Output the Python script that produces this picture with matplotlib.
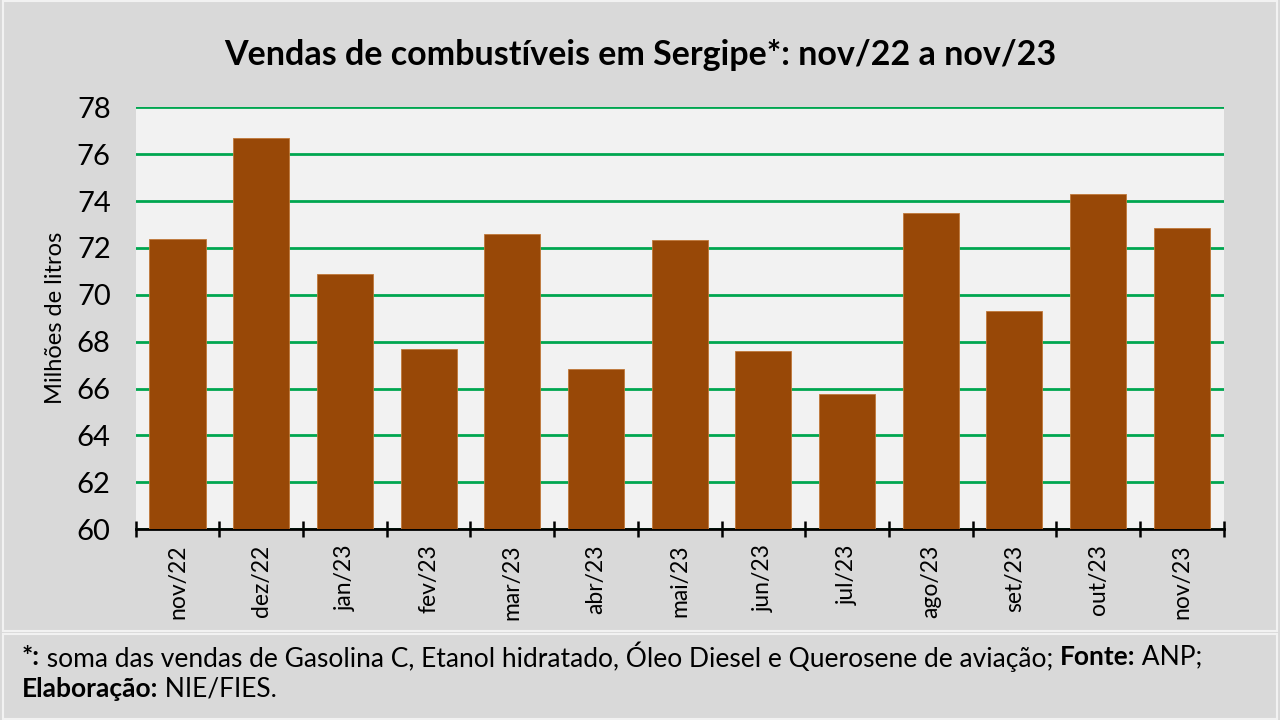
import matplotlib.pyplot as plt
from matplotlib.patches import Rectangle

months = ["nov/22", "dez/22", "jan/23", "fev/23", "mar/23", "abr/23", "mai/23",
          "jun/23", "jul/23", "ago/23", "set/23", "out/23", "nov/23"]
sales = [72.4, 76.7, 70.9, 67.7, 72.6, 66.85, 72.35, 67.6, 65.75, 73.5, 69.3, 74.3, 72.85]
yticks = [60, 62, 64, 66, 68, 70, 72, 74, 76, 78]

plt.rcParams["font.family"] = ["Lato", "DejaVu Sans"]

fig = plt.figure(figsize=(12.8, 7.2), dpi=100)
fig.patch.set_facecolor("#D9D9D9")

# light borders of chart box and footnote box
fig.patches.append(Rectangle((0.002, 0.123), 0.996, 0.875, transform=fig.transFigure,
                             facecolor="none", edgecolor="#F2F2F2", linewidth=1.5))
fig.patches.append(Rectangle((0.002, 0.002), 0.996, 0.118, transform=fig.transFigure,
                             facecolor="none", edgecolor="#F2F2F2", linewidth=1.5))

ax = fig.add_axes([0.106, 0.265, 0.850, 0.586])
ax.set_facecolor("#F2F2F2")

x = list(range(len(months)))
ax.bar(x, sales, width=0.67, color="#984807", edgecolor="#C07838", linewidth=0.6, zorder=3)

ax.set_ylim(60, 78)
ax.set_xlim(-0.5, len(months) - 0.5)
ax.set_yticks(yticks)
ax.set_yticklabels([str(v) for v in yticks], fontsize=21)
ax.tick_params(axis="y", length=0, pad=18)
ax.yaxis.grid(True, color="#00A650", linewidth=2, zorder=1)
ax.set_axisbelow(True)

ax.set_xticks(x)
ax.set_xticklabels(months, rotation=90, fontsize=16.5)
ax.tick_params(axis="x", which="major", length=0, pad=11)
ax.set_xticks([i - 0.5 for i in range(len(months) + 1)], minor=True)
ax.tick_params(axis="x", which="minor", length=12, width=1.8, direction="inout", color="black")

for side in ["top", "right", "left"]:
    ax.spines[side].set_visible(False)
ax.spines["bottom"].set_linewidth(2)

ax.set_ylabel("Milhões de litros", fontsize=17, labelpad=8)

fig.text(0.5, 0.923, "Vendas de combustíveis em Sergipe*: nov/22 a nov/23",
         ha="center", va="center", fontsize=24.5, fontweight="bold")

# footnote with bold and regular pieces placed one after another
renderer = fig.canvas.get_renderer()
lines = [
    (0.088, [("*:", "bold"),
             (" soma das vendas de Gasolina C, Etanol hidratado, Óleo Diesel e Querosene de aviação; ", "normal"),
             ("Fonte:", "bold"), (" ANP;", "normal")]),
    (0.043, [("Elaboração:", "bold"), (" NIE/FIES.", "normal")]),
]
for y, parts in lines:
    xpos = 0.017
    for s, w in parts:
        t = fig.text(xpos, y, s, fontsize=19, fontweight=w, va="center")
        bb = t.get_window_extent(renderer=renderer)
        xpos += bb.width / fig.bbox.width

plt.savefig("out.png", dpi=100, facecolor=fig.get_facecolor())
